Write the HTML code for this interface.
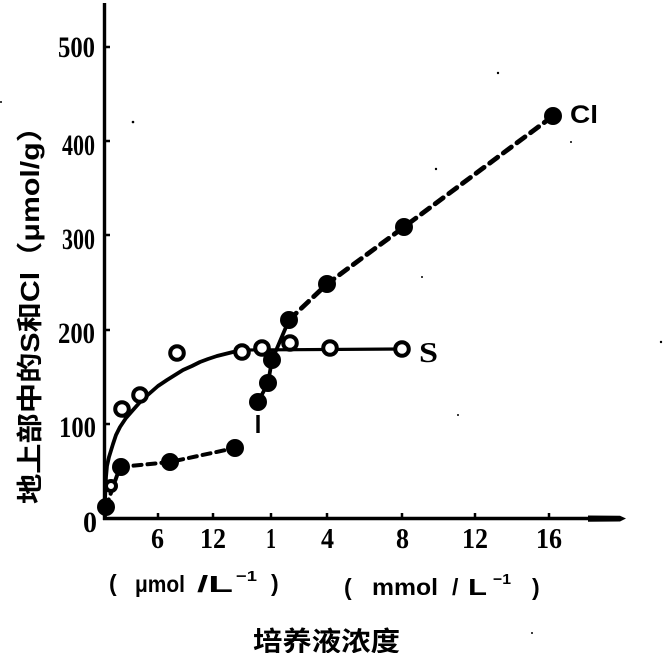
<!DOCTYPE html>
<html><head><meta charset="utf-8"><style>
html,body{margin:0;padding:0;background:#fff;}
svg{display:block;}
.t{font-family:"Liberation Serif","Noto Serif CJK SC",serif;font-weight:bold;fill:#000;}
.s{font-family:"Liberation Sans","Noto Sans CJK SC",sans-serif;font-weight:bold;fill:#000;}
</style></head><body>
<svg width="663" height="653" viewBox="0 0 663 653" xmlns="http://www.w3.org/2000/svg">
<rect width="663" height="653" fill="#fff"/>
<!-- axes -->
<line x1="104.5" y1="3" x2="104.5" y2="520" stroke="#000" stroke-width="3.4"/>
<line x1="103" y1="518.5" x2="592" y2="518.5" stroke="#000" stroke-width="3.6"/>
<path d="M588,515.5 L620,515.8 L626,518.5 L620,521.5 L588,521.8 Z" fill="#000"/>
<!-- y ticks -->
<g stroke="#000" stroke-width="2.5">
<line x1="104" y1="47" x2="110" y2="47"/>
<line x1="104" y1="141" x2="110" y2="141"/>
<line x1="104" y1="235" x2="110" y2="235"/>
<line x1="104" y1="330" x2="110" y2="330"/>
<line x1="104" y1="424" x2="110" y2="424"/>
</g>
<!-- x ticks -->
<g stroke="#000" stroke-width="2.5">
<line x1="158" y1="513" x2="158" y2="518"/>
<line x1="213" y1="513" x2="213" y2="518"/>
<line x1="271" y1="513" x2="271" y2="518"/>
<line x1="327" y1="513" x2="327" y2="518"/>
<line x1="402" y1="513" x2="402" y2="518"/>
<line x1="475" y1="513" x2="475" y2="518"/>
<line x1="549" y1="513" x2="549" y2="518"/>
</g>
<!-- y labels -->
<g class="t" font-size="30">
<text x="58" y="57" textLength="37" lengthAdjust="spacingAndGlyphs">500</text>
<text x="62" y="155" textLength="33" lengthAdjust="spacingAndGlyphs">400</text>
<text x="62" y="249" textLength="33" lengthAdjust="spacingAndGlyphs">300</text>
<text x="58" y="343" textLength="37" lengthAdjust="spacingAndGlyphs">200</text>
<text x="59" y="437" textLength="37" lengthAdjust="spacingAndGlyphs">100</text>
<text x="83" y="532" textLength="14" lengthAdjust="spacingAndGlyphs">0</text>
</g>
<!-- x labels -->
<g class="t" font-size="28">
<text x="151" y="548" textLength="13" lengthAdjust="spacingAndGlyphs">6</text>
<text x="200" y="548" textLength="26" lengthAdjust="spacingAndGlyphs">12</text>
<text x="266" y="548" textLength="10" lengthAdjust="spacingAndGlyphs">1</text>
<text x="321" y="548" textLength="13" lengthAdjust="spacingAndGlyphs">4</text>
<text x="396" y="548" textLength="13" lengthAdjust="spacingAndGlyphs">8</text>
<text x="462" y="548" textLength="26" lengthAdjust="spacingAndGlyphs">12</text>
<text x="536" y="548" textLength="26" lengthAdjust="spacingAndGlyphs">16</text>
</g>
<!-- units -->
<g class="s" font-size="23">
<text x="109" y="591">(</text>
<text x="135" y="592" textLength="50" lengthAdjust="spacingAndGlyphs">μmol</text>
<text x="197" y="592" textLength="36" lengthAdjust="spacingAndGlyphs">/L</text>
<text x="236" y="581" font-size="15" textLength="21" lengthAdjust="spacingAndGlyphs">−1</text>
<text x="271" y="591">)</text>
<text x="344" y="595">(</text>
<text x="372" y="595" textLength="66" lengthAdjust="spacingAndGlyphs">mmol</text>
<text x="452" y="595">/</text>
<text x="468" y="595" textLength="19" lengthAdjust="spacingAndGlyphs">L</text>
<text x="493" y="584" font-size="15" textLength="18" lengthAdjust="spacingAndGlyphs">−1</text>
<text x="532" y="595">)</text>
</g>
<!-- title -->
<text class="s" x="253" y="651" font-size="27" textLength="147" lengthAdjust="spacingAndGlyphs">培养液浓度</text>
<!-- y axis title -->
<text class="s" transform="translate(39,308) rotate(-90)" text-anchor="middle" font-size="26" textLength="392" lengthAdjust="spacingAndGlyphs">地上部中的S和Cl（μmol/g）</text>
<!-- S curve -->
<polyline fill="none" stroke="#000" stroke-width="3.8" stroke-linejoin="round" stroke-linecap="round"
 points="105,517 105,500 105.5,488 106,477 107,466 109,457 113,444 116,435 120,427 126,418 133,410 141,401 150,393 158,386 167,380 175,375 183,370 192,366 200,362 208,359 217,356 225,354 233,352 242,351"/>
<line x1="242" y1="350" x2="402" y2="349" stroke="#000" stroke-width="3.2"/>
<!-- Cl dashed low -->
<polyline fill="none" stroke="#000" stroke-width="4" stroke-dasharray="8,6" stroke-linecap="round"
 points="106,507 120,467 170,462 235,448"/>
<line x1="258" y1="415" x2="258" y2="433" stroke="#000" stroke-width="3.4"/>
<polyline fill="none" stroke="#000" stroke-width="3.8" points="258,402 268,383 272,360 289,320"/>
<polyline fill="none" stroke="#000" stroke-width="4.8" stroke-dasharray="10,7" stroke-linecap="round"
 points="289,320 327,284 404,227 553,116"/>
<!-- filled circles -->
<g fill="#000">
<circle cx="106" cy="507" r="9"/>
<circle cx="121" cy="467" r="9"/>
<circle cx="170" cy="462" r="9"/>
<circle cx="235" cy="448" r="9"/>
<circle cx="258" cy="402" r="9"/>
<circle cx="268" cy="383" r="9"/>
<circle cx="272" cy="360" r="9"/>
<circle cx="289" cy="320" r="9"/>
<circle cx="327" cy="284" r="9"/>
<circle cx="404" cy="227" r="9"/>
<circle cx="553" cy="116" r="9"/>
</g>
<!-- open circles -->
<g fill="#fff" stroke="#000" stroke-width="4">
<circle cx="111" cy="486" r="5"/>
<circle cx="122" cy="409" r="6.8"/>
<circle cx="140" cy="395" r="6.8"/>
<circle cx="177" cy="353" r="6.8"/>
<circle cx="242" cy="352" r="6.8"/>
<circle cx="262" cy="348" r="6.8"/>
<circle cx="290" cy="343" r="6.8"/>
<circle cx="330" cy="348" r="6.8"/>
<circle cx="402" cy="349" r="6.8"/>
</g>
<!-- series labels -->
<text class="s" x="570" y="123" font-size="25" textLength="28" lengthAdjust="spacingAndGlyphs">Cl</text>
<text class="t" x="419" y="362" font-size="28" textLength="19" lengthAdjust="spacingAndGlyphs">S</text>
<!-- specks -->
<g fill="#000">
<circle cx="133" cy="122" r="1.3"/>
<circle cx="436" cy="169" r="1.2"/>
<circle cx="422" cy="277" r="1"/>
<circle cx="571" cy="142" r="1"/>
<circle cx="661" cy="342" r="1.2"/>
<circle cx="458" cy="415" r="1"/>
<circle cx="532" cy="633" r="1"/>
<circle cx="1" cy="102" r="1"/>
<circle cx="498" cy="73" r="1.2"/>
</g>
</svg>
</body></html>
